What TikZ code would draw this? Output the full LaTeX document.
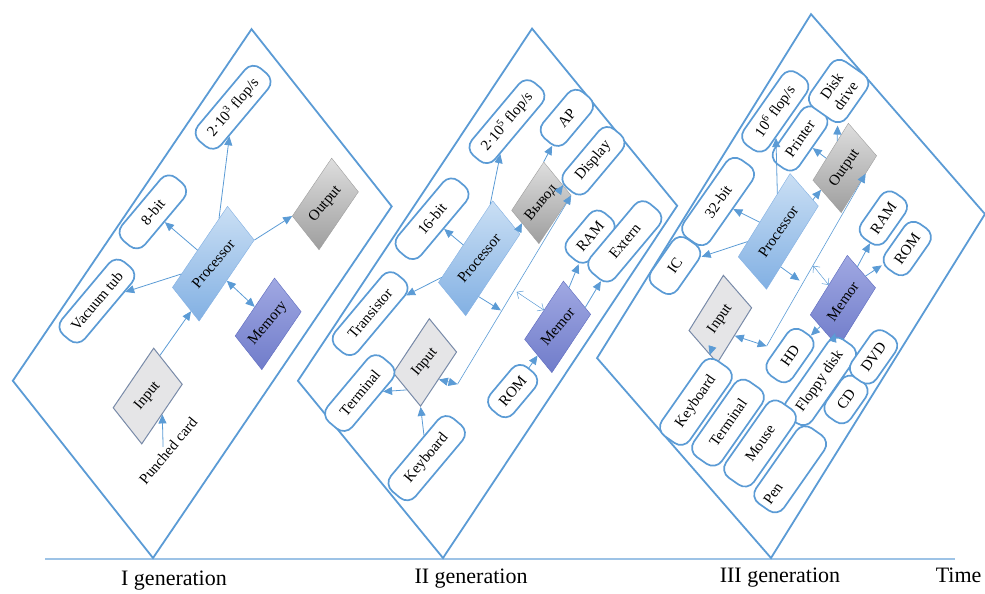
\documentclass[tikz,border=0pt]{standalone}
\usepackage{fontspec}
\setmainfont{Liberation Serif}
\usetikzlibrary{arrows.meta}
\definecolor{lineblue}{RGB}{91,155,213}
\definecolor{axisblue}{RGB}{157,195,230}
\definecolor{procA}{RGB}{202,223,244}
\definecolor{procB}{RGB}{130,176,227}
\definecolor{memA}{RGB}{160,168,226}
\definecolor{memB}{RGB}{112,124,202}
\definecolor{memline}{RGB}{92,106,190}
\definecolor{outA}{RGB}{222,222,222}
\definecolor{outB}{RGB}{158,158,158}
\definecolor{inFill}{RGB}{229,229,231}
\definecolor{inLine}{RGB}{120,138,168}
\newcommand{\lblfont}{\fontsize{15}{17}\selectfont}
\newcommand{\tilt}{50}
\tikzset{
  panel/.style={draw=lineblue, line width=1.8pt},
  rbox/.style={draw=lineblue, line width=1.7pt, fill=white, rounded corners=11pt,
    minimum height=30pt, inner sep=2pt, rotate=\tilt, font=\lblfont},
  txt/.style={font=\lblfont, rotate=\tilt, inner sep=1pt},
  unitbox/.style={transform shape, minimum height=43pt, inner sep=2pt},
  proc/.style={unitbox, top color=procA, bottom color=procB, draw=procB, minimum width=98pt},
  memo/.style={unitbox, top color=memA, bottom color=memB, draw=memline, minimum width=70pt},
  outp/.style={unitbox, top color=outA, bottom color=outB, draw=outB, minimum width=70pt},
  inp/.style={unitbox, fill=inFill, draw=inLine, line width=1pt, minimum width=70pt},
  arr/.style={draw=lineblue, line width=0.8pt, -{Triangle[length=9pt,width=8pt]}},
  both/.style={arr, {Triangle[length=9pt,width=8pt]}-{Triangle[length=9pt,width=8pt]}},
  hollow/.style={draw=lineblue, line width=0.5pt, {Straight Barb[length=5pt,width=9pt]}-{Straight Barb[length=5pt,width=9pt]}},
  bus/.style={draw=lineblue, line width=0.6pt},
  timeline/.style={draw=axisblue, line width=1.2pt},
  gen/.style={font=\fontsize{22}{26}\selectfont}
}
\begin{document}
\begin{tikzpicture}[x=1pt, y=1pt]
\useasboundingbox (0,0) rectangle (985,594);

\draw[timeline] (45,35) -- (955,35);
\node[gen] (g1) at (174,13) {I generation};
\node[gen] (g2) at (471,15) {II generation};
\node[gen] (g3) at (780,16) {III generation};
\node[gen, anchor=east] (time) at (985,19) {Time};

\begin{scope}[cm={0.5617,0.8273,-0.6203,0.7842,(153,36)}]
\draw[panel] (0,0) rectangle (425,226);
\node[proc] (proc1) at (241,121) {};
\node[outp] (out1) at (372,59) {};
\node[memo] (mem1) at (247,38) {};
\node[inp, minimum width=72pt, minimum height=46pt] (in1) at (101,100) {};
\node[txt] (tproc1) at (proc1) {Processor};
\node[txt] (tout1) at (out1) {Output};
\node[txt] (tmem1) at (mem1) {Memory};
\node[txt] (tin1) at (in1) {Input};
\node[txt] (card) at (82,50) {Punched card};
\node[rbox, minimum width=95pt] (flop1) at (359,196) {2·10\textsuperscript{3} flop/s};
\node[rbox, minimum width=82pt] (bit1) at (225,204) {8-bit};
\node[rbox, minimum width=95pt] (tube) at (121,200) {Vacuum tub};
\draw[arr] (proc1) -- (flop1);
\draw[arr] (proc1) -- (bit1);
\draw[arr] (proc1) -- (tube);
\draw[arr] (proc1.south east) -- (out1.north west);
\draw[both] (proc1.south) -- (mem1.north);
\draw[arr] (in1.20) -- (proc1.190);
\draw[arr] (card.north) -- (in1.south);
\end{scope}

\begin{scope}[cm={0.5536,0.8327,-0.6337,0.7736,(443,36)}]
\draw[panel] (0,0) rectangle (423,229);
\node[proc] (proc2) at (228,142) {};
\node[outp, minimum width=58pt] (out2) at (315,120) {};
\node[memo] (mem2) at (246,34) {};
\node[inp, minimum width=65pt] (in2) at (115,129) {};
\node[txt] (tproc2) at (proc2) {Processor};
\node[txt] (tout2) at (out2) {Вывод};
\node[txt] (tmem2) at (mem2) {Memor};
\node[txt] (tin2) at (in2) {Input};
\node[rbox, minimum width=92pt] (bit2) at (216,206) {16-bit};
\node[rbox, minimum width=95pt] (flop2) at (341,197) {2·10\textsuperscript{5} flop/s};
\node[rbox, minimum width=60pt] (ap) at (392,147) {AP};
\node[rbox, minimum width=75pt] (disp) at (385,99) {Display};
\node[rbox, minimum width=55pt] (ram2) at (332,58) {RAM};
\node[rbox, minimum width=90pt, minimum height=32pt] (ext) at (357,25) {Extern};
\node[rbox, minimum width=95pt] (trans) at (103,205) {Transistor};
\node[rbox, minimum width=84pt, minimum height=32pt] (term2) at (42,168) {Terminal};
\node[rbox, minimum width=95pt, minimum height=32pt] (kbd2) at (53,72) {Keyboard};
\node[rbox, minimum width=55pt] (rom2) at (167,36) {ROM};
\coordinate (bus2a) at (127,88);
\coordinate (bus2p) at (211,93);
\coordinate (bus2m) at (236,90);
\draw[bus, -{Triangle[length=9pt,width=8pt]}] (bus2a) -- (out2.south east);
\draw[both] (in2.south) -- (bus2a);
\draw[arr] (proc2.220) -- (bus2p);
\draw[hollow] (bus2m) -- (mem2.north);
\draw[arr] (proc2) -- (trans);
\draw[arr] (proc2) -- (bit2);
\draw[arr] (proc2) -- (flop2);
\draw[arr] (proc2.-20) -- (out2.170);
\draw[arr] (out2.north east) -- (ap);
\draw[arr] (disp) -- (out2);
\draw[arr] (in2.west) -- (term2);
\draw[arr] (kbd2) -- (in2.south west);
\draw[arr] (rom2) -- (mem2);
\draw[arr] (mem2.20) -- (ram2);
\draw[arr] (mem2.-20) -- (ext);
\end{scope}

\begin{scope}[cm={0.5283,0.8492,-0.6564,0.7544,(771,36)}]
\renewcommand{\tilt}{55}
\draw[panel] (0,0) rectangle (405,265);
\node[proc] (proc3) at (230,174) {};
\node[outp, minimum width=67pt] (out3) at (326,150) {};
\node[memo] (mem3) at (233,78) {};
\node[inp, minimum width=65pt] (in3) at (124,177) {};
\node[txt] (tproc3) at (proc3) {Processor};
\node[txt] (tout3) at (out3) {Output};
\node[txt] (tmem3) at (mem3) {Memor};
\node[txt] (tin3) at (in3) {Input};
\node[rbox, minimum width=95pt, minimum height=32pt] (bit3) at (203,244) {32-bit};
\node[rbox, minimum width=88pt] (flop3) at (310,243) {10\textsuperscript{6} flop/s};
\node[rbox, minimum width=68pt] (printer) at (311,206) {Printer};
\node[rbox, minimum width=56pt, minimum height=44pt, align=center] (disk) at (374,198) {Disk\\drive};
\node[rbox, minimum width=58pt, minimum height=32pt] (ic) at (125,247) {IC};
\node[rbox, minimum width=55pt] (ram3) at (322,88) {RAM};
\node[rbox, minimum width=55pt] (rom3) at (320,50) {ROM};
\node[rbox, minimum width=55pt] (hd) at (154,95) {HD};
\node[rbox, minimum width=95pt, minimum height=32pt] (floppy) at (160,54) {Floppy disk};
\node[rbox, minimum width=48pt] (cd) at (168,21) {CD};
\node[rbox, minimum width=55pt] (dvd) at (219,20) {DVD};
\node[rbox, minimum width=92pt, minimum height=34pt] (kbd3) at (48,153) {Keyboard};
\node[rbox, minimum width=92pt, minimum height=34pt] (term3) at (59,113) {Terminal};
\node[rbox, minimum width=92pt, minimum height=34pt] (mouse) at (70,73) {Mouse};
\node[rbox, minimum width=92pt, minimum height=34pt, text width=82pt, align=left] (pen) at (76,32) {Pen};
\coordinate (bus3a) at (142,121);
\coordinate (bus3p) at (213,128);
\coordinate (bus3m) at (234,124);
\draw[bus, -{Triangle[length=9pt,width=8pt]}] (bus3a) -- (out3.-60);
\draw[both] (in3.south) -- (bus3a);
\draw[arr] (proc3.224) -- (bus3p);
\draw[hollow] (bus3m) -- (mem3.north);
\draw[arr] (proc3) -- (ic);
\draw[arr] (proc3) -- (bit3);
\draw[arr] (proc3) -- (flop3);
\draw[arr] (proc3.-15) -- (out3.165);
\draw[arr] (out3.110) -- (printer);
\draw[arr] (out3.60) -- (disk);
\draw[arr] (mem3.10) -- (ram3);
\draw[arr] (mem3.-10) -- (rom3);
\draw[arr] (mem3.170) -- (hd);
\draw[arr] (mem3.200) -- (floppy);
\draw[arr] (kbd3) -- (in3);
\end{scope}
\end{tikzpicture}
\end{document}
